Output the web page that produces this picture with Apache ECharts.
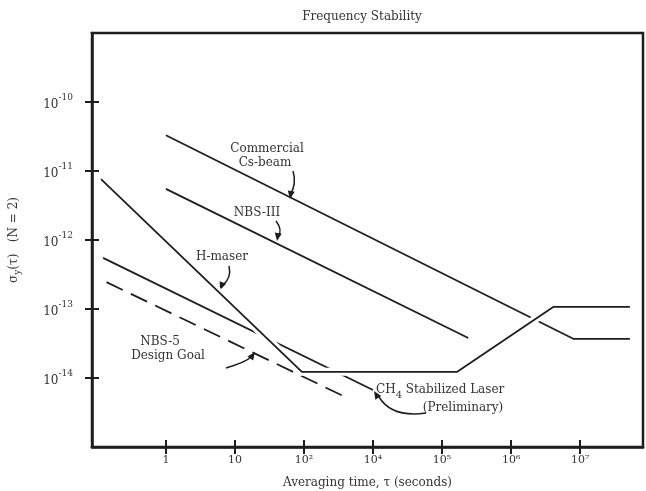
<!DOCTYPE html>
<html lang="en">
<head>
  <meta charset="utf-8">
  <title>Frequency Stability</title>
  <script src="https://cdn.jsdelivr.net/npm/echarts@6/dist/echarts.min.js"></script>
  <style>
    html, body { margin: 0; padding: 0; background: #fff; }
    #main { width: 646px; height: 491px; }
  </style>
</head>
<body>
<div id="main"></div>
<script type="text/javascript">
// x is the tick position (one step per labelled tick), y is sigma_y(tau)
var xTicks = [0, 1, 2, 3, 4, 5, 6];
var xLabels = ['1', '10', '10²', '10⁴', '10⁵', '10⁶', '10⁷'];
var yTickExp = [-14, -13, -12, -11, -10];

var csBeam  = [[0, 3.3e-11], [5.9, 3.7e-14], [6.72, 3.7e-14]];
var nbs3    = [[0, 5.5e-12], [4.38, 3.8e-14]];
var hMaser  = [[-0.94, 7.6e-12], [1.97, 1.23e-14], [4.22, 1.23e-14], [5.61, 1.07e-13], [6.72, 1.07e-13]];
var ch4     = [[-0.91, 5.5e-13], [3.0, 6.7e-15]];
var nbs5    = [[-0.86, 2.45e-13], [2.55, 5.6e-15]];

var ink = '#1e1e1e';
var font = 'DejaVu Serif';

function expLabel(v) {
    var e = Math.round(Math.log10(v));
    if (yTickExp.indexOf(e) < 0) return '';
    return '{b|10}{p|' + String(e) + '}';
}

function line(name, data, dashed, z) {
    return {
        name: name, type: 'line', data: data, z: z || 2,
        showSymbol: false, silent: true,
        lineStyle: { color: ink, width: 1.8, type: dashed ? [18, 9] : 'solid' }
    };
}

function txt(x, y, s, size) {
    return { type: 'text', x: x, y: y, style: { text: s, font: (size || 12) + 'px "' + font + '"', fill: '#333', align: 'center', verticalAlign: 'middle' } };
}
function curve(x1, y1, cx, cy, x2, y2) {
    return { type: 'bezierCurve', shape: { x1: x1, y1: y1, cpx1: cx, cpy1: cy, x2: x2, y2: y2 }, style: { stroke: ink, lineWidth: 1.5, fill: null } };
}
function head(x, y, ang) {
    // small filled arrow head pointing along ang (radians)
    var l = 8, w = 3.5, c = Math.cos(ang), s = Math.sin(ang);
    return { type: 'polygon', shape: { points: [[x, y], [x - l * c - w * s, y - l * s + w * c], [x - l * c + w * s, y - l * s - w * c]] }, style: { fill: ink } };
}

var myChart = echarts.init(document.getElementById('main'));

// white halo under the H-maser curve gives the drafted "broken line" crossings
var halo = line('halo', hMaser, false, 3);
halo.lineStyle = { color: '#fff', width: 8 };

option = {
    animation: false,
    title: {
        text: 'Frequency Stability', left: 357, top: 6, textAlign: 'center',
        textStyle: { fontFamily: font, fontSize: 12, fontWeight: 'normal', color: '#333' }
    },
    grid: { left: 92, right: 3, top: 33, bottom: 44, outerBoundsMode: 'none', containLabel: false,
        show: true, borderColor: ink, borderWidth: 2.5, backgroundColor: 'transparent' },
    xAxis: [{
        type: 'value', min: -1.07, max: 6.91, position: 'bottom',
        axisLine: { onZero: false, lineStyle: { color: ink, width: 2.5 } },
        axisTick: { customValues: xTicks, length: 7, lineStyle: { color: ink, width: 2 } },
        axisLabel: { customValues: xTicks, margin: 8, color: '#333', fontFamily: font, fontSize: 11,
            formatter: function (v) { return xLabels[Math.round(v)]; } },
        splitLine: { show: false },
        name: 'Averaging time, τ (seconds)', nameLocation: 'middle', nameGap: 30,
        nameTextStyle: { fontFamily: font, fontSize: 12, color: '#333' }
    }, {
        type: 'value', min: -1.07, max: 6.91, position: 'bottom',
        axisLine: { show: false, onZero: false },
        axisTick: { customValues: xTicks, inside: true, length: 7, lineStyle: { color: ink, width: 2 } },
        axisLabel: { show: false }, splitLine: { show: false }
    }],
    yAxis: [{
        type: 'log', logBase: 10, min: 1e-15, max: 1e-9, splitNumber: 6, position: 'left',
        axisLine: { onZero: false, lineStyle: { color: ink, width: 2.5 } },
        axisTick: { length: 7, lineStyle: { color: ink, width: 2 } },
        axisLabel: { margin: 19, color: '#333', fontFamily: font, formatter: expLabel,
            rich: { b: { fontFamily: font, fontSize: 12, color: '#333', lineHeight: 18, verticalAlign: 'bottom' },
                    p: { fontFamily: font, fontSize: 9, color: '#333', lineHeight: 18, verticalAlign: 'top' } } },
        splitLine: { show: false },
        name: '{a|σ}{s|y}{a|(τ)   (N = 2)}', nameLocation: 'middle', nameGap: 70,
        nameTextStyle: { fontFamily: font, color: '#333',
            rich: { a: { fontFamily: font, fontSize: 12, color: '#333', lineHeight: 16 },
                    s: { fontFamily: font, fontSize: 9, color: '#333', lineHeight: 16, verticalAlign: 'bottom', padding: [6, 0, 0, 0] } } }
    }, {
        type: 'log', logBase: 10, min: 1e-15, max: 1e-9, splitNumber: 6, position: 'left',
        axisLine: { show: false, onZero: false },
        axisTick: { inside: true, length: 7, lineStyle: { color: ink, width: 2 } },
        axisLabel: { show: false }, splitLine: { show: false }
    }],
    series: [
        line('Commercial Cs-beam', csBeam),
        line('NBS-III', nbs3),
        halo,
        line('H-maser', hMaser, false, 4),
        line('CH4 Stabilized Laser (Preliminary)', ch4),
        line('NBS-5 Design Goal', nbs5, true)
    ],
    graphic: [
        // hide the end ticks at 1e-9 / 1e-15 that the log axis always adds
        { type: 'rect', z: 100, shape: { x: 78, y: 29, width: 12.5, height: 8 }, style: { fill: '#fff' } },
        { type: 'rect', z: 100, shape: { x: 78, y: 443, width: 12.5, height: 8 }, style: { fill: '#fff' } },
        txt(267, 149, 'Commercial'), txt(265, 163, 'Cs-beam'),
        curve(293, 171, 297, 184, 290, 195), head(290, 199, Math.PI * 0.55),
        txt(257, 213, 'NBS-III'),
        curve(276, 221, 283, 230, 278, 237), head(277, 241, Math.PI * 0.55),
        txt(222, 257, 'H-maser'),
        curve(229, 266, 232, 278, 222, 286), head(220, 290, Math.PI * 0.62),
        txt(160, 342, 'NBS-5'), txt(168, 356, 'Design Goal'),
        curve(226, 368, 246, 362, 251, 357), head(255, 352, -Math.PI * 0.3),
        { type: 'text', x: 376, y: 390, style: { text: '{a|CH}{s|4}{a| Stabilized Laser}', font: '12px "' + font + '"', fill: '#333', verticalAlign: 'middle',
            rich: { a: { fontFamily: font, fontSize: 12, fill: '#333', lineHeight: 16 }, s: { fontFamily: font, fontSize: 10, fill: '#333', lineHeight: 16, padding: [10, 0, 0, 0] } } } },
        txt(463, 408, '(Preliminary)'),
        curve(426, 413, 392, 418, 379, 397), head(374, 391, -Math.PI * 0.68)
    ]
};

if (option && typeof option === "object") {
    myChart.setOption(option, true);
}
</script>
</body>
</html>
